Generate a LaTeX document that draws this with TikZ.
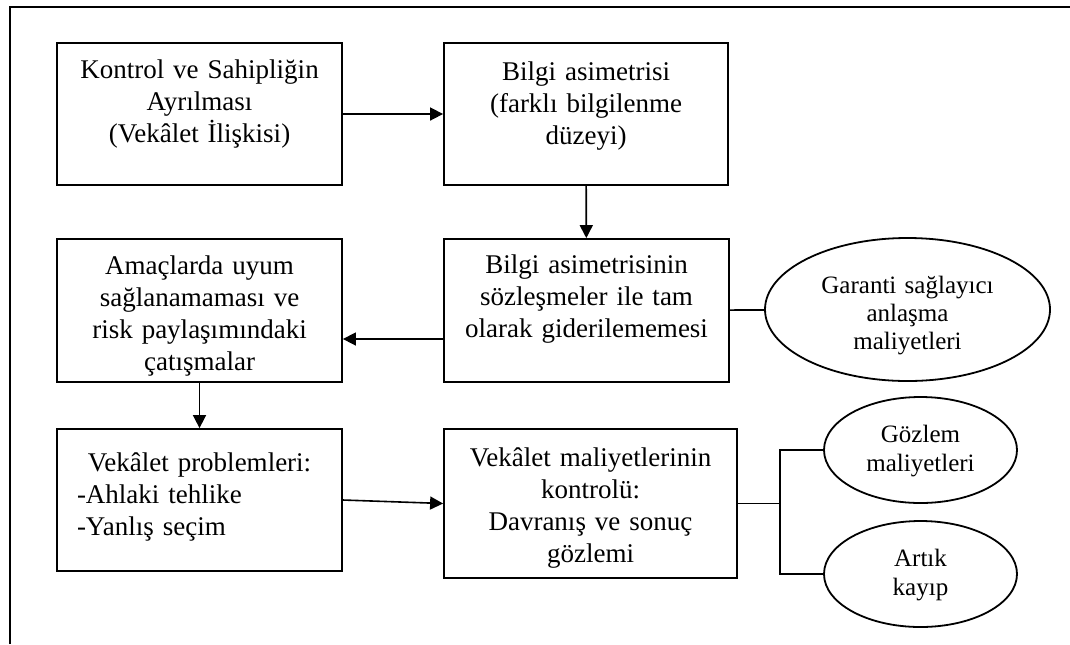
\documentclass[tikz,border=0pt]{standalone}
\usepackage{fontspec}
\setmainfont{Liberation Serif}
\usetikzlibrary{arrows.meta,positioning,shapes.geometric,calc}

\begin{document}
\begin{tikzpicture}[x=0.5pt,y=-0.5pt,>={Triangle[length=6.5pt,width=6.5pt]},
  box/.style={draw,line width=0.9pt,inner sep=0pt,text width=142.5pt,align=center,
    font=\fontsize{13.5}{16}\selectfont},
  oval/.style={draw,ellipse,line width=0.9pt,inner sep=0pt,text width=90pt,align=center,
    font=\fontsize{12.5}{14.5}\selectfont},
  link/.style={line width=0.8pt}]
  \useasboundingbox (0,0) rectangle (1070,644);
  \draw[line width=0.6pt] (10,644) -- (10,7) -- (1070,7);

  % top row
  \node[box,text height=17.5pt,text depth=53.5pt] (ayrilma) at (199.5,114)
    {Kontrol ve Sahipliğin\\ Ayrılması\\ (Vekâlet İlişkisi)};
  \node[box,text width=142pt,text height=18.5pt,text depth=52.5pt] (asimetri) at (586,114)
    {Bilgi asimetrisi\\ (farklı bilgilenme\\ düzeyi)};

  % middle row
  \node[box,text height=17pt,text depth=54.5pt] (giderilememe) at (586.5,310.5)
    {Bilgi asimetrisinin\\ sözleşmeler ile tam\\ olarak giderilememesi};
  \node[box,text height=17.5pt,text depth=54pt] (uyum) at (199.5,310.5)
    {Amaçlarda uyum\\ sağlanamaması ve\\ risk paylaşımındaki\\ çatışmalar};
  \node[oval,minimum width=142.5pt,minimum height=71.5pt,text height=14pt,text depth=30.5pt,
    font=\fontsize{12.5}{14}\selectfont] (garanti) at (907.5,309.5)
    {Garanti sağlayıcı\\ anlaşma\\ maliyetleri};

  % bottom row
  \node[box,inner xsep=10pt,text width=122.5pt,align=left,text height=21pt,text depth=50pt]
    (problem) at (199.5,500)
    {\makebox[\linewidth]{Vekâlet problemleri:}\\ -Ahlaki tehlike\\ -Yanlış seçim};
  \node[box,text width=146.5pt,text height=18.5pt,text depth=56pt] (kontrol) at (590.5,503.5)
    {Vekâlet maliyetlerinin\\ kontrolü:\\ Davranış ve sonuç\\ gözlemi};
  \node[oval,text width=60pt,minimum width=96.5pt,minimum height=53pt,text height=12pt,text depth=20pt]
    (gozlem) at (920.5,450) {Gözlem\\ maliyetleri};
  \node[oval,text width=60pt,minimum width=96.5pt,minimum height=53pt,text height=12pt,text depth=20pt]
    (kayip) at (920.5,574) {Artık\\ kayıp};
  \coordinate (catal) at (780,503.5);

  % connectors
  \draw[link,->] (ayrilma) -- (asimetri);
  \draw[link,->] (asimetri) -- (giderilememe);
  \draw[link,->] ([yshift=-14.25pt]giderilememe.west) -- ([yshift=-14.25pt]uyum.east);
  \draw[link] (giderilememe) -- (garanti);
  \draw[link,->] (uyum) -- (problem);
  \draw[link,->] (problem.east) -- (kontrol.west);
  \draw[link] (kontrol.east) -- (catal);
  \draw[link] (gozlem.west) -| (catal) |- (kayip.west);
\end{tikzpicture}
\end{document}
